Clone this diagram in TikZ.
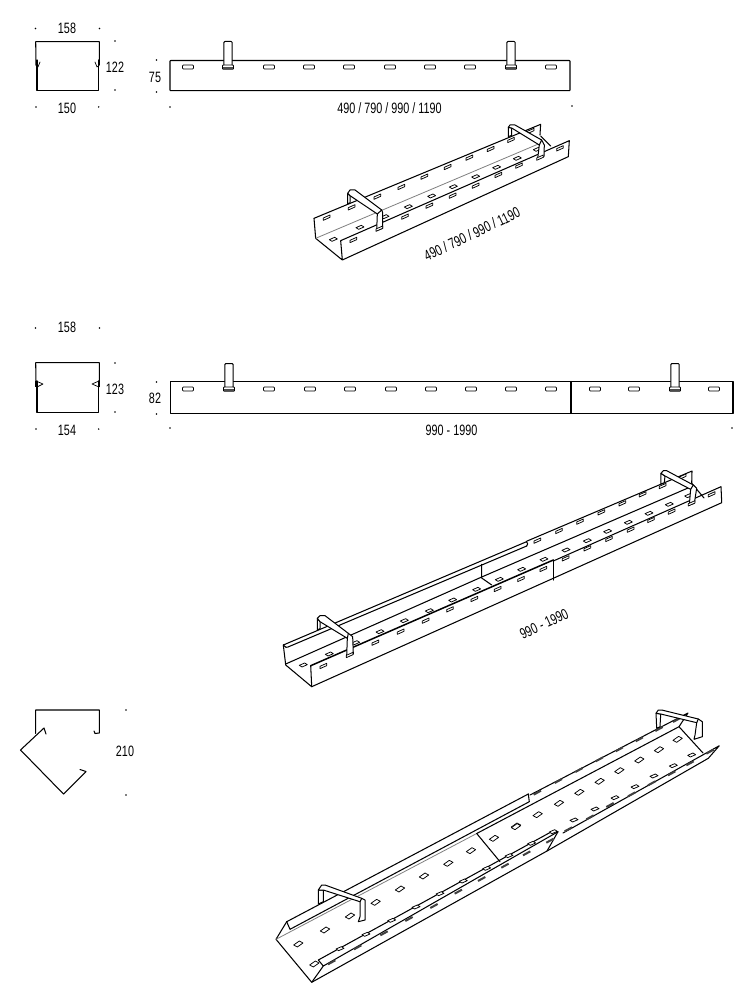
\documentclass[tikz,border=0pt]{standalone}
\usepackage{fontspec}
\setmainfont[FakeStretch=0.72]{Liberation Sans}
\definecolor{dkmark}{gray}{0.25}
\definecolor{tabbar}{gray}{0.3}
\tikzset{
  ln/.style={line width=1.05pt,line join=round,line cap=round,black},
  hv/.style={line width=1.5pt,line join=round,line cap=round,black},
  thn/.style={line width=0.7pt,line join=round,line cap=round,black},
  gry/.style={line width=0.8pt,line cap=round,gray},
  slotline/.style={line width=0.75pt,line join=round,black,fill=white},
  brk/.style={line width=1pt,line join=round,line cap=round,black,fill=white},
  lbl/.style={font=\fontsize{15}{15}\selectfont,inner sep=0pt,black}
}
\newcommand\slwrow[1]{\draw[slotline] \foreach \p/\q in {#1} {(\p-10,\q+1) -- (\p+10,\q-8) -- (\p+10,\q-1) -- (\p-10,\q+8) -- cycle};}
\newcommand\slfrow[1]{\draw[slotline] \foreach \p/\q in {#1} {(\p-12,\q+1) -- (\p+4,\q-6) -- (\p+12,\q-1) -- (\p-4,\q+6) -- cycle};}
\newcommand\sldrow[1]{\draw[slotline] \foreach \p/\q in {#1} {(\p-14,\q+3) -- (\p+3,\q-9) -- (\p+14,\q-3) -- (\p-3,\q+9) -- cycle};}
\newcommand\dkmrow[1]{\draw[line width=2pt,dkmark] \foreach \p/\q in {#1} {(\p-11,\q+6) -- (\p+11,\q-6)};}
\newcommand\hslrow[2]{\draw[slotline,rounded corners=0.8pt] \foreach \p in {#1} {(\p-5.5,#2-2) rectangle (\p+5.5,#2+2)};}
\newcommand\tabb[3]{% x, top y, slot y
  \draw[brk,rounded corners=1pt] (#1-4.2,#2) rectangle (#1+4.2,#3-1);
  \draw[slotline,line width=0.9pt,rounded corners=0.8pt] (#1-5.5,#3-2) rectangle (#1+5.5,#3+2.2);
  \draw[line width=1.6pt,tabbar] (#1-5,#3+1) -- (#1+5,#3+1);}
\begin{document}
\begin{tikzpicture}[x=1pt,y=-1pt]
\useasboundingbox (0,0) rectangle (755,1000);
\fill[white] (0,0) rectangle (755,1000);

% ---------- dimension dots
\fill[black] \foreach \p/\q in {35.5/28.5,99.5/28.5,115/41,115/90,36/107,98.7/107,156.5/60,156.5/92,170/107,572/106,
  35.5/328,99.5/328,115/363,115/412,36/429,98.7/429,156.5/382,156.5/414,170/428,732/428,126/710,126/795}
  {(\p,\q) circle (0.8pt)};

% ---------- section 1, views
\draw[ln] (36,65) -- (35.7,41.7) -- (99.3,41.7) -- (99.3,65);
\draw[ln] (37,60) -- (37,90.7) -- (98.3,90.7) -- (98.3,60);
\draw[thn] (36,65.5) -- (38,67) -- (40,62);
\draw[thn] (99,65.5) -- (97,67) -- (95,62);
\draw[ln,rounded corners=0.6pt] (170,60.5) rectangle (570,90.7);
\hslrow{188,269,309,349,390,430,470,551}{67}
\tabb{228}{41.5}{67}
\tabb{511}{41.5}{67}
\node[lbl] (d158a) at (67,28) {158};
\node[lbl] (d122) at (115,67) {122};
\node[lbl] (d150) at (67,108) {150};
\node[lbl] (d75) at (155,77) {75};
\node[lbl] (dlen1) at (389.5,108) {490 / 790 / 990 / 1190};

% ---------- section 1, perspective (zoom frame 300,110)
\begin{scope}[shift={(300,110)},x=.3333pt,y=-.3333pt]
  \draw[ln] (42,325) -- (722,43) -- (720,75);
  \draw[ln] (42,325) -- (47,385) -- (127,450) -- (122,392) -- (808,92) -- (805,140) -- (127,450);
  \draw[gry] (47,385) -- (720,100);
  \draw[ln] (722,78) -- (752,108);
  \slwrow{80/323,155/292,232/260,304/231,373/200,443/171,508/143,572/117,633/90,692/63}
  \slfrow{100/388,180/352,255/320,325/290,395/258,460/230,527/200,590/172,652/145,712/118}
  \slwrow{160/390,315/320,388/287,458/257,527/227,595/195,657/167,780/115}
  % brackets
  \draw[brk] (143,250) -- (143,282) -- (150,278) -- (150,257) -- cycle;
  \draw[brk] (150,240) -- (165,240) -- (245,300) -- (248,308) -- (248,355) -- (230,362) -- (232,312) -- (150,257) -- (143,250) -- cycle;
  \draw[ln] (232,312) -- (245,300);
  \slwrow{238/356}
  \draw[brk] (625,52) -- (625,80) -- (635,76) -- (635,54) -- cycle;
  \draw[brk] (630,45) -- (645,45) -- (725,90) -- (733,105) -- (732,140) -- (713,147) -- (718,105) -- (635,54) -- (625,52) -- cycle;
  \draw[ln] (718,105) -- (725,90);
  \slwrow{720/143}
  \node[lbl,rotate=25.5] (dlen1p) at (516,372) {490 / 790 / 990 / 1190};
\end{scope}

% ---------- section 2, views
\draw[ln] (36,385) -- (35.7,362.7) -- (99.3,362.7) -- (99.3,385);
\draw[line width=1.35pt,line join=round,line cap=round] (37,381) -- (37,412.3) -- (98.3,412.3) -- (98.3,381);
\draw[thn] (36,381) -- (43,384) -- (37,387);
\draw[thn] (99,381) -- (92,384) -- (99,387);
\draw[line width=1.5pt] (36,381) -- (36,387) (99,381) -- (99,387);
\draw[ln] (170.5,381.5) rectangle (733,413.5);
\draw[ln] (571,381.5) -- (571,413.5);
\hslrow{188,269,310,350,391,431,471,511,551,595,634,714}{389}
\tabb{229}{363.5}{389}
\tabb{675}{363.5}{389}
\node[lbl] (d158b) at (67,327.5) {158};
\node[lbl] (d123) at (115,389) {123};
\node[lbl] (d154) at (67,430) {154};
\node[lbl] (d82) at (155,398) {82};
\node[lbl] (dlen2) at (451.5,430) {990 - 1990};

% ---------- section 2, perspective
\draw[ln] (283.3,645) -- (526.5,541.7) (526.7,541.2) -- (692,471) -- (691.7,483.3);
\draw[ln] (283.3,645) .. controls (285,647.5) and (287,648) .. (288,647) -- (526.7,546);
\draw[ln] (526.5,541.7) .. controls (528,542) and (528,545.6) .. (526.7,546);
\draw[ln] (283.3,645) -- (285.7,665) -- (311.7,686.7) -- (310.7,665.7);
\draw[ln] (311.7,686.7) -- (721.7,502.7) -- (721,486.7) -- (553.3,561);
\draw[ln] (285.7,664) -- (481.7,577) (481.7,577) -- (688,488);
\draw[ln] (481.7,564.3) -- (481.7,578) -- (491.7,585);
\draw[hv] (310.7,665.7) -- (553.3,560);
\draw[ln] (553.3,560) -- (553.3,580);
\draw[ln] (691.7,483.3) -- (704,498);
\begin{scope}[shift={(270,530)},x=.3333pt,y=-.3333pt]
  \slfrow{100/405,178/372,257/338,330/305,403/272,478/242,548/210,620/178,688/148,755/118,822/88}
  \slwrow{160/408,316/338,392/305,467/272,540/238,613/207,683/177,753/147,820/117}
  \draw[brk] (142,265) -- (142,300) -- (150,296) -- (150,275) -- cycle;
  \draw[brk] (150,257) -- (165,257) -- (235,310) -- (248,320) -- (250,372) -- (230,380) -- (232,325) -- (150,275) -- (142,265) -- cycle;
  \draw[ln] (232,325) -- (235,310);
  \slwrow{239/375}
\end{scope}
\begin{scope}[shift={(500,460)},x=.3333pt,y=-.3333pt]
  \slwrow{112/242,177/213,240/185,304/157,367/130,428/103,488/78,548/50}
  \slfrow{198/270,262/242,323/214,385/187,447/160,508/133,566/107}
  \slwrow{197/295,262/265,327/237,392/209,453/180,515/155,635/103}
  \draw[brk] (483,40) -- (483,72) -- (493,68) -- (495,48) -- cycle;
  \draw[brk] (490,32) -- (500,32) -- (580,75) -- (590,85) -- (583,130) -- (568,135) -- (572,88) -- (495,48) -- (483,40) -- cycle;
  \draw[ln] (572,88) -- (580,75);
  \slwrow{575/130}
\end{scope}
\node[lbl,rotate=25] (dlen2p) at (544,624) {990 - 1990};

% ---------- section 3, section view
\draw[ln] (35.7,733.5) -- (35.7,710) -- (99.3,710) -- (99.3,733) -- (95,733.5) -- (94,731);
\draw[ln] (46,734) -- (44,728) -- (20.5,750) -- (63.5,794) -- (86,771.5) -- (80,769.5);
\node[lbl] (d210) at (125,751) {210};

% ---------- section 3, perspective
\draw[ln] (286.7,921.7) -- (528.3,794) (530,795) -- (688,713) -- (679,726.7);
\draw[ln] (286.7,921.7) -- (290,929.3) -- (529.3,801.7) -- (528.3,794);
\draw[ln] (286.7,921.7) -- (276,939.3) -- (311.7,982.3) -- (547,851) -- (708.3,758.3) -- (719.3,745.7) -- (563,833);
\draw[ln] (318.3,960) -- (553.3,830.7) -- (558,831.7) -- (323.3,966) -- cycle;
\draw[ln] (558,831.7) -- (547,851);
\draw[ln] (311.7,982.3) -- (323.3,966);
\draw[gry] (276,939.3) -- (476.7,833.5);
\draw[ln] (476.7,833.5) -- (679,726.7) -- (703,753);
\draw[ln] (476.7,833.5) -- (500,861.7);
\begin{scope}[shift={(260,820)},x=.3333pt,y=-.3333pt]
  \sldrow{115/372,195/330,270/288,347/247,420/207,492/168,565/130,633/92,702/55,768/18}
  \slfrow{240/386,318/343,395/301,468/261,540/221,610/183,680/145,747/107,815/70,880/35}
  \sldrow{163/432}
  \dkmrow{215/427,293/382,372/340,447/297,522/258,595/215,665/177,735/137,800/100,870/62}
\end{scope}
\begin{scope}[shift={(500,700)},x=.3333pt,y=-.3333pt]
  \sldrow{48/380,113/344,177/310,238/277,299/244,358/212,418/180,477/149,533/118}
  \slfrow{222/360,285/327,345/293,405/260,462/228,520/197,575/165}
  \dkmrow{112/278,175/243,237/210,298/178,358/148,418/118,477/87,530/60}
  \dkmrow{205/388,270/352,330/315,395/283,455/250,515/220,570/190,630/155}
\end{scope}
% brackets of the third tray
\draw[brk] (318.3,890) -- (318.3,904) -- (323.3,901.7) -- (323.3,890) -- cycle;
\draw[brk] (321.7,885) -- (325,885) -- (361.7,898.3) -- (365,900) -- (365,920) -- (358.3,921.7) -- (360,916.7) -- (360,901.7) -- (323.3,890) -- (318.3,890) -- cycle;
\draw[ln] (360,901.7) -- (361.7,898.3);
\draw[brk] (656,713.3) -- (656.7,728.3) -- (660,726.7) -- (660.7,714) -- cycle;
\draw[brk] (658.3,710) -- (661.7,710) -- (698.3,719) -- (702.3,721.7) -- (702.3,736.7) -- (694,739.3) -- (695,735) -- (696.7,722.7) -- (660.7,714) -- (656,713.3) -- cycle;
\draw[ln] (696.7,722.7) -- (698.3,719);
\end{tikzpicture}
\end{document}
